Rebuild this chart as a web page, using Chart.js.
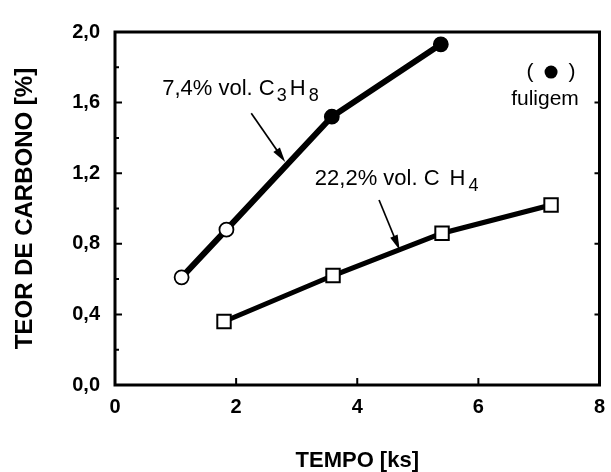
<!DOCTYPE html>
<html>
<head>
<meta charset="utf-8">
<script src="https://cdn.jsdelivr.net/npm/chart.js@4.4.1/dist/chart.umd.min.js"></script>
<style>
  html, body { margin: 0; background: #fff; }
</style>
</head>
<body>
<canvas id="chart" width="611" height="472"></canvas>
<script>
// carbon content vs. time for the two atmospheres
const propTime = [1.1, 1.84, 3.58, 5.38];
const propCarbon = [0.61, 0.88, 1.52, 1.93];
const propSoot = [false, false, true, true];   // filled marker = soot
const metTime = [1.8, 3.6, 5.4, 7.2];
const metCarbon = [0.36, 0.62, 0.86, 1.02];

const xTicks = [0, 2, 4, 6, 8];
const xTickLabels = ['0', '2', '4', '6', '8'];
const yTicks = [0, 0.4, 0.8, 1.2, 1.6, 2.0];
const yTickLabels = ['0,0', '0,4', '0,8', '1,2', '1,6', '2,0'];

const REG = '"Liberation Sans", Arial, sans-serif';
const BOLD = { family: '"Liberation Sans", Arial, sans-serif', weight: 'bold' };

function toPoints(xs, ys) {
  return xs.map((x, i) => ({ x: x, y: ys[i] }));
}

// text with subscripts, e.g. C3H8; each part is [text, isSubscript, gapAfter]
function drawChem(ctx, x, y, parts) {
  ctx.textAlign = 'left';
  ctx.textBaseline = 'alphabetic';
  for (const [t, sub, gap] of parts) {
    ctx.font = (sub ? '18px ' : '22px ') + REG;
    ctx.fillText(t, x, sub ? y + 6 : y);
    x += ctx.measureText(t).width + (gap || 0);
  }
}

function arrow(ctx, x0, y0, x1, y1) {
  const a = Math.atan2(y1 - y0, x1 - x0);
  const c = Math.cos(a), s = Math.sin(a);
  const head = 15, half = 4;
  ctx.lineWidth = 1.7;
  ctx.beginPath();
  ctx.moveTo(x0, y0);
  ctx.lineTo(x1 - head * c * 0.7, y1 - head * s * 0.7);
  ctx.stroke();
  ctx.beginPath();
  ctx.moveTo(x1, y1);
  ctx.lineTo(x1 - head * c + half * s, y1 - head * s - half * c);
  ctx.lineTo(x1 - head * c - half * s, y1 - head * s + half * c);
  ctx.closePath();
  ctx.fill();
}

// box around the plot with inward tick marks
const frame = {
  id: 'frame',
  beforeDatasetsDraw(chart) {
    const { ctx, chartArea: a, scales: { x, y } } = chart;
    ctx.save();
    ctx.strokeStyle = '#000';
    ctx.lineWidth = 3;
    ctx.strokeRect(a.left, a.top, a.right - a.left, a.bottom - a.top);
    ctx.lineWidth = 2;
    ctx.beginPath();
    for (let k = 1; k < 10; k++) {
      const py = y.getPixelForValue(k * 0.2);
      const len = k % 2 === 0 ? 7 : 4;
      ctx.moveTo(a.left, py);
      ctx.lineTo(a.left + len, py);
      if (k % 2 === 0) {
        ctx.moveTo(a.right, py);
        ctx.lineTo(a.right - 5, py);
      }
    }
    xTicks.slice(1, -1).forEach(v => {
      const px = x.getPixelForValue(v);
      ctx.moveTo(px, a.bottom);
      ctx.lineTo(px, a.bottom - 7);
    });
    ctx.stroke();
    ctx.restore();
  }
};

// series labels, arrows and the soot note
const notes = {
  id: 'notes',
  afterDatasetsDraw(chart) {
    const { ctx, scales: { x, y } } = chart;
    const X = v => x.getPixelForValue(v), Y = v => y.getPixelForValue(v);
    ctx.save();
    ctx.fillStyle = '#000';
    ctx.strokeStyle = '#000';

    drawChem(ctx, X(0.78), Y(1.643), [['7,4% vol. C', false, 2], ['3', true, 3], ['H', false, 3], ['8', true]]);
    arrow(ctx, X(2.25), Y(1.54), X(2.81), Y(1.263));

    drawChem(ctx, X(3.30), Y(1.133), [['22,2% vol. C', false, 10], ['H', false, 3], ['4', true]]);
    arrow(ctx, X(4.36), Y(1.048), X(4.70), Y(0.765));

    const cx = X(7.2), cy = Y(1.773);
    ctx.font = '21px ' + REG;
    ctx.textAlign = 'center';
    ctx.textBaseline = 'middle';
    ctx.fillText('(', cx - 21, cy);
    ctx.fillText(')', cx + 21, cy);
    ctx.beginPath();
    ctx.arc(cx, cy, 6.5, 0, Math.PI * 2);
    ctx.fill();
    ctx.textBaseline = 'alphabetic';
    ctx.fillText('fuligem', X(7.1), Y(1.586));
    ctx.restore();
  }
};

new Chart(document.getElementById('chart'), {
  type: 'scatter',
  data: {
    datasets: [
      {
        label: '7,4% vol. C3H8',
        data: toPoints(propTime, propCarbon),
        showLine: true,
        borderColor: '#000',
        borderWidth: 6,
        pointRadius: 7,
        pointBorderWidth: 1.8,
        pointBorderColor: '#000',
        pointBackgroundColor: propSoot.map(s => s ? '#000' : '#fff')
      },
      {
        label: '22,2% vol. CH4',
        data: toPoints(metTime, metCarbon),
        showLine: true,
        borderColor: '#000',
        borderWidth: 5,
        pointStyle: 'rect',
        pointRadius: 9.5,
        pointBorderWidth: 2,
        pointBorderColor: '#000',
        pointBackgroundColor: '#fff'
      }
    ]
  },
  options: {
    responsive: false,
    animation: false,
    devicePixelRatio: 1,
    layout: { padding: { top: 32, right: 6, left: 0, bottom: 0 } },
    plugins: { legend: { display: false }, tooltip: { enabled: false } },
    scales: {
      x: {
        type: 'linear',
        min: 0,
        max: 8,
        afterBuildTicks: s => { s.ticks = xTicks.map(v => ({ value: v })); },
        afterFit: s => { s.height = 87; s.paddingLeft = 0; s.paddingRight = 0; },
        grid: { display: false, drawTicks: false },
        border: { display: false },
        ticks: {
          color: '#000',
          padding: 10,
          font: { ...BOLD, size: 20 },
          callback: (v, i) => xTickLabels[i]
        },
        title: {
          display: true,
          text: 'TEMPO [ks]',
          color: '#000',
          font: { ...BOLD, size: 22, lineHeight: 1 },
          padding: { top: 0, bottom: 0 }
        }
      },
      y: {
        min: 0,
        max: 2,
        afterBuildTicks: s => { s.ticks = yTicks.map(v => ({ value: v })); },
        afterFit: s => { s.width = 115; s.paddingTop = 0; s.paddingBottom = 0; },
        grid: { display: false, drawTicks: false },
        border: { display: false },
        ticks: {
          color: '#000',
          padding: 15,
          font: { ...BOLD, size: 20 },
          callback: (v, i) => yTickLabels[i]
        },
        title: {
          display: true,
          text: 'TEOR DE CARBONO [%]',
          color: '#000',
          font: { ...BOLD, size: 24, lineHeight: 1 },
          padding: { top: 13, bottom: 0 }
        }
      }
    }
  },
  plugins: [frame, notes]
});
</script>
</body>
</html>
